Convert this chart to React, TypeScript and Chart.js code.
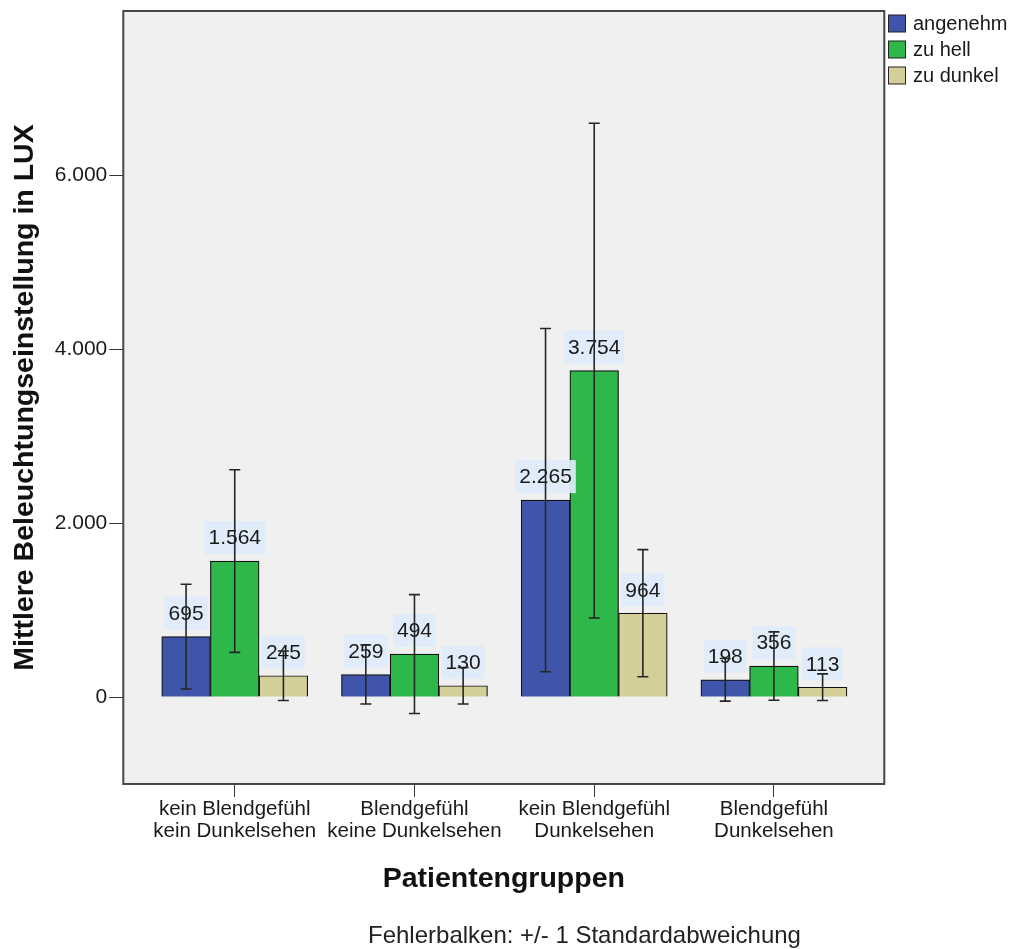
import React, { useEffect, useRef } from "react";
import { Chart, registerables } from "chart.js";

Chart.register(...registerables);

// ---- data ----
const categories: string[][] = [
  ["kein Blendgefühl", "kein Dunkelsehen"],
  ["Blendgefühl", "keine Dunkelsehen"],
  ["kein Blendgefühl", "Dunkelsehen"],
  ["Blendgefühl", "Dunkelsehen"],
];
const seriesNames = ["angenehm", "zu hell", "zu dunkel"];
const angenehm = [695, 259, 2265, 198];
const zuHell = [1564, 494, 3754, 356];
const zuDunkel = [245, 130, 964, 113];
const sdAngenehm = [603, 339, 1974, 245];
const sdZuHell = [1050, 684, 2845, 393];
const sdZuDunkel = [284, 210, 731, 153];
const yTicks = [0, 2000, 4000, 6000];

const seriesValues = [angenehm, zuHell, zuDunkel];
const seriesSd = [sdAngenehm, sdZuHell, sdZuDunkel];
const seriesColors = ["#3e55a9", "#2fb84a", "#d4cf98"];

const FONT = "'Liberation Sans', Arial, sans-serif";
const W = 1012;
const H = 949;

const fmt = (v: number) =>
  String(Math.round(v)).replace(/\B(?=(\d{3})+(?!\d))/g, ".");

const decorPlugin = {
  id: "decor",
  beforeDraw(chart: any) {
    const { ctx, chartArea: a } = chart;
    ctx.save();
    ctx.fillStyle = "#ffffff";
    ctx.fillRect(0, 0, chart.width, chart.height);
    ctx.fillStyle = "#f0f0f0";
    ctx.fillRect(a.left, a.top, a.right - a.left, a.bottom - a.top);
    ctx.restore();
  },
  afterDatasetsDraw(chart: any) {
    const { ctx, chartArea: a } = chart;
    const yScale = chart.scales.y;
    ctx.save();
    // data labels
    ctx.font = `21px ${FONT}`;
    ctx.textAlign = "center";
    ctx.textBaseline = "middle";
    seriesValues.forEach((vals, di) => {
      const meta = chart.getDatasetMeta(di);
      vals.forEach((v, i) => {
        const el = meta.data[i];
        const txt = fmt(v);
        const tw = ctx.measureText(txt).width;
        const bw = tw + 8;
        const bh = 33;
        const cx = el.x;
        const bottom = el.y - 7;
        ctx.fillStyle = "rgba(222,235,250,0.92)";
        ctx.fillRect(cx - bw / 2, bottom - bh, bw, bh);
        ctx.fillStyle = "#1a1a1a";
        ctx.fillText(txt, cx, bottom - bh / 2 + 1);
      });
    });
    // error bars
    ctx.strokeStyle = "#262626";
    ctx.lineWidth = 1.6;
    seriesValues.forEach((vals, di) => {
      const meta = chart.getDatasetMeta(di);
      vals.forEach((v, i) => {
        const sd = seriesSd[di][i];
        const x = meta.data[i].x;
        const yt = yScale.getPixelForValue(v + sd);
        const yb = yScale.getPixelForValue(v - sd);
        ctx.beginPath();
        ctx.moveTo(x, yt);
        ctx.lineTo(x, yb);
        ctx.moveTo(x - 5.5, yt);
        ctx.lineTo(x + 5.5, yt);
        ctx.moveTo(x - 5.5, yb);
        ctx.lineTo(x + 5.5, yb);
        ctx.stroke();
      });
    });
    // frame
    ctx.strokeStyle = "#474747";
    ctx.lineWidth = 2;
    ctx.strokeRect(a.left, a.top, a.right - a.left, a.bottom - a.top);
    ctx.restore();
  },
  afterDraw(chart: any) {
    const { ctx, chartArea: a } = chart;
    ctx.save();
    // legend
    ctx.font = `20px ${FONT}`;
    ctx.textAlign = "left";
    ctx.textBaseline = "middle";
    seriesNames.forEach((name, i) => {
      const cy = 23.5 + i * 26;
      ctx.fillStyle = seriesColors[i];
      ctx.fillRect(888.5, cy - 8.5, 17, 17);
      ctx.strokeStyle = "#222";
      ctx.lineWidth = 1;
      ctx.strokeRect(888.5, cy - 8.5, 17, 17);
      ctx.fillStyle = "#1a1a1a";
      ctx.fillText(name, 913, cy + 1);
    });
    // axis titles
    ctx.fillStyle = "#111";
    ctx.font = `bold 28.5px ${FONT}`;
    ctx.textAlign = "center";
    ctx.fillText("Patientengruppen", (a.left + a.right) / 2, 879);
    ctx.save();
    ctx.translate(25, (a.top + a.bottom) / 2);
    ctx.rotate(-Math.PI / 2);
    ctx.fillText("Mittlere Beleuchtungseinstellung in LUX", 0, 0);
    ctx.restore();
    // footer
    ctx.font = `24px ${FONT}`;
    ctx.textAlign = "left";
    ctx.fillStyle = "#222";
    ctx.fillText("Fehlerbalken: +/- 1 Standardabweichung", 368, 936);
    ctx.restore();
  },
};

export default function App() {
  const ref = useRef<HTMLCanvasElement>(null);
  useEffect(() => {
    if (!ref.current) return;
    const chart = new Chart(ref.current, {
      type: "bar",
      data: {
        datasets: seriesNames.map((name, di) => ({
          label: name,
          data: seriesValues[di].map((v, i) => ({ x: i, y: v })),
          backgroundColor: seriesColors[di],
          borderColor: "#111",
          borderWidth: 1.2,
          barThickness: 48.67,
        })),
      },
      options: {
        responsive: false,
        animation: false,
        devicePixelRatio: 1,
        layout: { padding: { left: 0, top: 11, right: 127.7, bottom: 105 } },
        plugins: {
          legend: { display: false },
          tooltip: { enabled: false },
        },
        scales: {
          x: {
            type: "linear",
            offset: false,
            min: -0.62,
            max: 3.614,
            afterBuildTicks: (s: any) => {
              s.ticks = categories.map((_, i) => ({ value: i }));
            },
            afterFit: (s: any) => {
              s.height = 60;
              s.paddingLeft = 0;
              s.paddingRight = 0;
            },
            ticks: {
              callback: (v: any) => categories[v as number],
              font: { family: FONT, size: 20.5, lineHeight: 1.05 },
              color: "#1a1a1a",
              padding: 2,
              maxRotation: 0,
              autoSkip: false,
            },
            grid: {
              offset: false,
              drawOnChartArea: false,
              drawTicks: true,
              tickLength: 13,
              color: "#333",
              lineWidth: 1,
            },
            border: { display: false },
          },
          y: {
            min: -1000,
            max: 7890,
            afterBuildTicks: (s: any) => {
              s.ticks = yTicks.map((v) => ({ value: v }));
            },
            afterFit: (s: any) => {
              s.width = 123.3;
              s.paddingTop = 0;
              s.paddingBottom = 0;
            },
            ticks: {
              callback: (v: any) => fmt(v as number),
              font: { family: FONT, size: 21 },
              color: "#1a1a1a",
              padding: 2,
            },
            grid: {
              drawOnChartArea: false,
              drawTicks: true,
              tickLength: 14,
              color: "#333",
              lineWidth: 1,
            },
            border: { display: false },
          },
        },
      },
      plugins: [decorPlugin],
    });
    return () => chart.destroy();
  }, []);
  return (
    <canvas
      ref={ref}
      width={W}
      height={H}
      style={{ display: "block", position: "absolute", left: 0, top: 0 }}
    />
  );
}
